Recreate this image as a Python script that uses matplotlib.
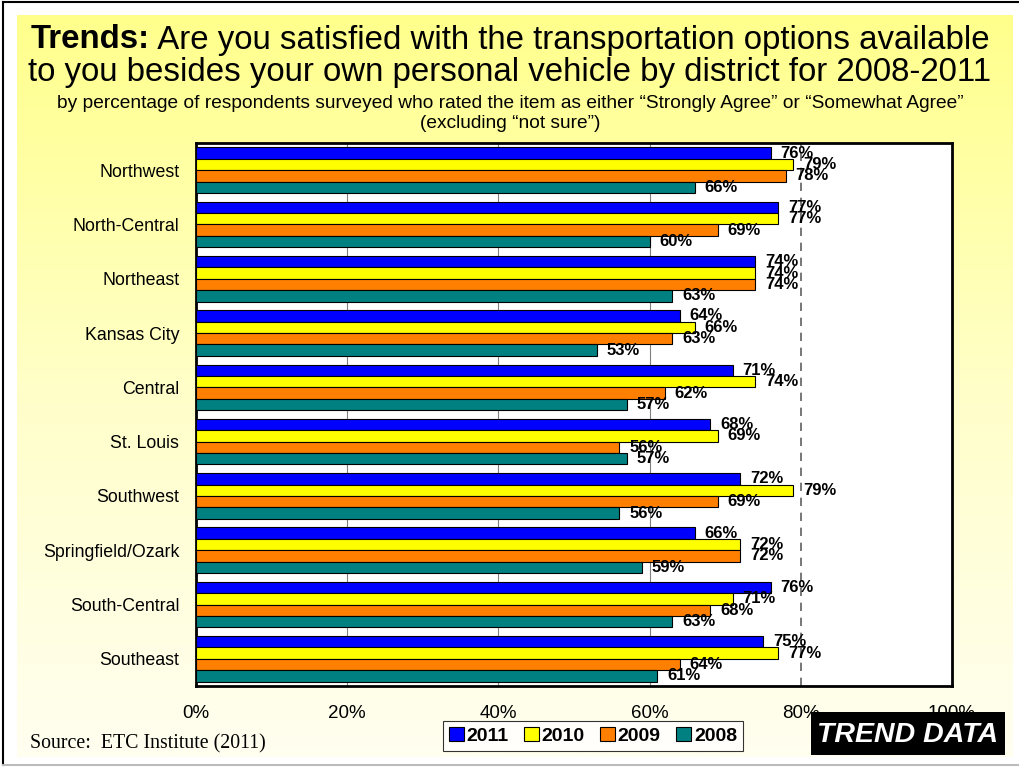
import numpy as np
import matplotlib
matplotlib.use("Agg")
import matplotlib.pyplot as plt
from matplotlib.colors import LinearSegmentedColormap
from matplotlib.lines import Line2D
from matplotlib.patches import Rectangle

plt.rcParams['font.family'] = ['Liberation Sans', 'DejaVu Sans']

districts = ['Northwest', 'North-Central', 'Northeast', 'Kansas City', 'Central',
             'St. Louis', 'Southwest', 'Springfield/Ozark', 'South-Central', 'Southeast']
years = ['2011', '2010', '2009', '2008']
v2011 = [76, 77, 74, 64, 71, 68, 72, 66, 76, 75]
v2010 = [79, 77, 74, 66, 74, 69, 79, 72, 71, 77]
v2009 = [78, 69, 74, 63, 62, 56, 69, 72, 68, 64]
v2008 = [66, 60, 63, 53, 57, 57, 56, 59, 63, 61]
colores = ['#0000FF', '#FFFF00', '#FF8000', '#008080']
xticks = [0, 20, 40, 60, 80, 100]

W, H = 1020, 769
fig = plt.figure(figsize=(W / 100, H / 100), dpi=100)
fig.patch.set_facecolor('white')

# fondo amarillo con degradado
bg = fig.add_axes([17 / W, 1 - 757 / H, (1013 - 17) / W, (757 - 15) / H], zorder=-5)
cmap = LinearSegmentedColormap.from_list('bg', ['#FFFF8C', '#FFFFC8', '#FFFEF0'])
bg.imshow(np.linspace(0, 1, 256).reshape(-1, 1), aspect='auto', cmap=cmap,
          extent=[0, 1, 0, 1], origin='upper')
bg.axis('off')

# marco exterior
fig.add_artist(Line2D([3 / W, 3 / W], [1 - 2 / H, 1 - 765 / H], color='black', lw=1.5))
fig.add_artist(Line2D([3 / W, 1], [1 - 2 / H, 1 - 2 / H], color='black', lw=1.5))
fig.add_artist(Line2D([3 / W, 1], [1 - 765 / H, 1 - 765 / H], color='#BBBBBB', lw=1.5))

# titulo: parte en negrita + resto normal, centrado en conjunto
tam_titulo = 23.8
renderer = fig.canvas.get_renderer()
t1 = fig.text(0, 1 - 40 / H, 'Trends:', ha='left', va='center', fontsize=tam_titulo, fontweight='bold')
t2 = fig.text(0, 1 - 40 / H, ' Are you satisfied with the transportation options available',
              ha='left', va='center', fontsize=tam_titulo)
w1 = t1.get_window_extent(renderer).width
w2 = t2.get_window_extent(renderer).width
x0 = (W - (w1 + w2)) / 2
t1.set_x(x0 / W)
t2.set_x((x0 + w1) / W)
fig.text(0.5, 1 - 73 / H, 'to you besides your own personal vehicle by district for 2008-2011',
         ha='center', va='center', fontsize=tam_titulo)
fig.text(0.5, 1 - 104 / H,
         'by percentage of respondents surveyed who rated the item as either \u201cStrongly Agree\u201d or \u201cSomewhat Agree\u201d',
         ha='center', va='center', fontsize=13.8)
fig.text(0.5, 1 - 124 / H, '(excluding \u201cnot sure\u201d)', ha='center', va='center', fontsize=13.8)

ax = fig.add_axes([196 / W, 1 - 686 / H, (952 - 196) / W, (686 - 143) / H], zorder=2)
ax.set_facecolor('white')

valores = [v2011, v2010, v2009, v2008]
alto = 0.21
y = np.arange(len(districts))
for k, (serie, color) in enumerate(zip(valores, colores)):
    pos = y - 1.5 * alto + k * alto
    ax.barh(pos, serie, height=alto, color=color, edgecolor='black', linewidth=0.8, zorder=3,
            label=years[k])
    for p, v in zip(pos, serie):
        ax.text(v + 1.3, p, f'{v}%', va='center', ha='left', fontsize=12,
                fontweight='bold', zorder=4)

ax.set_xlim(0, 100)
ax.set_ylim(len(districts) - 0.5, -0.5)
ax.set_yticks(y)
ax.set_yticklabels(districts, fontsize=12.8)
ax.set_xticks(xticks)
ax.set_xticklabels([f'{t}%' for t in xticks], fontsize=13.5)
ax.tick_params(axis='y', length=0, pad=12)
ax.tick_params(axis='x', length=0, pad=14)
for t in [20, 40, 60]:
    ax.axvline(t, color='#808080', lw=0.8, zorder=1)
ax.axvline(80, color='#606060', lw=1.2, ls=(0, (5, 4)), zorder=1)
for s in ax.spines.values():
    s.set_linewidth(2)

leg = fig.legend(loc='center', bbox_to_anchor=(593 / W, 1 - 736 / H), ncol=4,
                 prop={'weight': 'bold', 'size': 14}, frameon=True, fancybox=False,
                 edgecolor='black', handlelength=0.75, handleheight=0.75,
                 handletextpad=0.15, columnspacing=0.8, borderpad=0.3)
leg.get_frame().set_linewidth(0.8)
leg.set_zorder(6)

fig.text(30 / W, 1 - 744 / H, 'Source:  ETC Institute (2011)', ha='left', va='center',
         fontsize=14.3, family=['Liberation Serif', 'DejaVu Serif'])

fig.add_artist(Rectangle((811 / W, 1 - 755 / H), (1005 - 811) / W, (755 - 712) / H,
                         transform=fig.transFigure, facecolor='black', edgecolor='none', zorder=7))
fig.text(908 / W, 1 - 735 / H, 'TREND DATA', ha='center', va='center', color='white',
         fontsize=20.5, fontweight='bold', style='italic', zorder=8)

fig.savefig('out.png', dpi=100)
